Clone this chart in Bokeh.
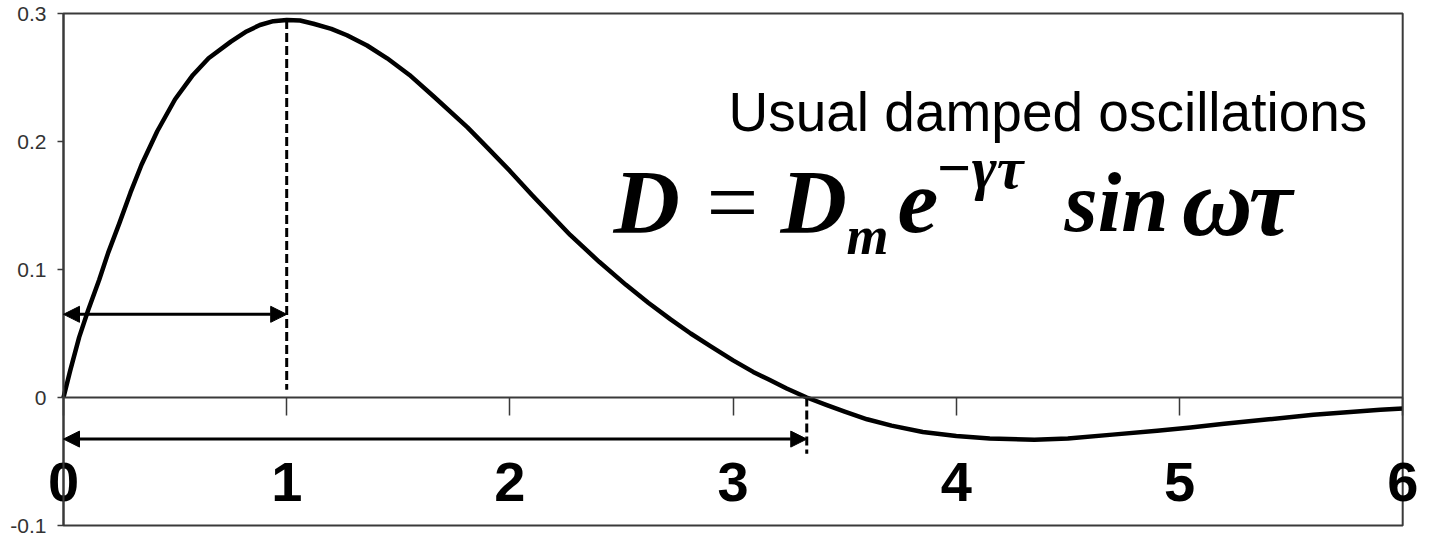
from bokeh.plotting import figure
from bokeh.models import LinearAxis, FixedTicker, Arrow, NormalHead, Label
from bokeh.embed import file_html
from bokeh.resources import INLINE

# Damped oscillation D(tau), sampled along the curve
tau = [0.00, 0.03, 0.07, 0.11, 0.16, 0.20, 0.25, 0.30, 0.35, 0.42, 0.50,
       0.58, 0.65, 0.75, 0.82, 0.88, 0.94, 1.00, 1.06, 1.12, 1.20, 1.27,
       1.36, 1.45, 1.55, 1.66, 1.81, 1.90, 2.00, 2.10, 2.27, 2.40, 2.52,
       2.62, 2.72, 2.81, 2.90, 3.00, 3.09, 3.16, 3.24, 3.33, 3.42, 3.50,
       3.60, 3.71, 3.85, 4.00, 4.15, 4.35, 4.50, 4.70, 4.90, 5.05, 5.20,
       5.40, 5.60, 5.75, 5.90, 6.00]
D = [0.000, 0.021, 0.047, 0.068, 0.092, 0.113, 0.136, 0.160, 0.182, 0.208, 0.233,
     0.252, 0.265, 0.278, 0.286, 0.291, 0.294, 0.295, 0.2945, 0.292, 0.288, 0.283,
     0.275, 0.265, 0.252, 0.235, 0.211, 0.195, 0.177, 0.158, 0.127, 0.106, 0.088,
     0.074, 0.061, 0.050, 0.040, 0.029, 0.020, 0.014, 0.007, 0.000, -0.006, -0.011,
     -0.017, -0.022, -0.027, -0.030, -0.032, -0.033, -0.032, -0.029, -0.026, -0.0235, -0.0205,
     -0.017, -0.0135, -0.0115, -0.0095, -0.0085]

x_limits = (0, 6)
y_limits = (-0.1, 0.3)
x_ticks = [0, 1, 2, 3, 4, 5, 6]
x_tick_labels = ["0", "1", "2", "3", "4", "5", "6"]
y_ticks = [-0.1, 0, 0.1, 0.2, 0.3]
y_tick_labels = ["-0.1", "0", "0.1", "0.2", "0.3"]

# Markers: first maximum and first zero crossing
peak_tau, peak_D = 1.0, 0.295
zero_tau = 3.33
arrow_levels = [0.065, -0.0325]

INK = "black"
FRAME = "#3a3a3a"

# The plotting area fills the whole canvas; the boxed region 0..6 x -0.1..0.3
# sits inside it with room left over for the axis numbers.
W, H = 1433, 540
PX_PER_X, PX_PER_Y = 223.2, 1280.0
LEFT_PX, ZERO_PX = 63, 397
x_view = (-LEFT_PX / PX_PER_X, (W - LEFT_PX) / PX_PER_X)
y_view = ((ZERO_PX - H) / PX_PER_Y, ZERO_PX / PX_PER_Y)

p = figure(width=W, height=H, x_range=x_view, y_range=y_view,
           output_backend="svg", toolbar_location=None,
           x_axis_location=None, y_axis_location=None,
           min_border=0)
p.grid.visible = False
p.outline_line_color = None
p.background_fill_color = "white"
p.border_fill_color = "white"

# box around the chart
p.quad(left=[x_limits[0]], right=[x_limits[1]],
       bottom=[y_limits[0]], top=[y_limits[1]],
       fill_color=None, line_color=FRAME, line_width=2)

# D axis along tau = 0
yax = LinearAxis(fixed_location=0, bounds=y_limits, ticker=FixedTicker(ticks=y_ticks))
yax.major_label_overrides = dict(zip(y_ticks, y_tick_labels))
yax.major_tick_out = 6
yax.major_tick_in = 0
yax.minor_tick_line_color = None
yax.axis_line_color = FRAME
yax.axis_line_width = 2
yax.major_tick_line_color = FRAME
yax.major_tick_line_width = 1.5
yax.major_label_text_font = "Liberation Sans"
yax.major_label_text_font_size = "21px"
yax.major_label_text_color = "#333333"
yax.major_label_standoff = 11
p.add_layout(yax, "left")

# tau axis along D = 0
xax = LinearAxis(fixed_location=0, bounds=x_limits, ticker=FixedTicker(ticks=x_ticks))
xax.major_label_overrides = dict(zip(x_ticks, x_tick_labels))
xax.major_tick_out = 18
xax.major_tick_in = 0
xax.minor_tick_line_color = None
xax.axis_line_color = FRAME
xax.axis_line_width = 2
xax.major_tick_line_color = FRAME
xax.major_tick_line_width = 1.5
xax.major_label_text_font = "Liberation Sans"
xax.major_label_text_font_style = "bold"
xax.major_label_text_font_size = "56px"
xax.major_label_text_color = INK
xax.major_label_standoff = 47
p.add_layout(xax, "below")

# the curve
p.line(tau, D, line_width=4.5, line_color=INK, line_join="round")

# dashed guides at the maximum and at the zero crossing
p.segment(x0=[peak_tau, zero_tau], y0=[peak_D, 0.0],
          x1=[peak_tau, zero_tau], y1=[0.006, -0.044],
          line_color=INK, line_width=3, line_dash="9 4")

# double-headed arrows: quarter period and half period
for level, end in zip(arrow_levels, [peak_tau, zero_tau]):
    p.add_layout(Arrow(
        start=NormalHead(size=16, fill_color=INK, line_color=INK),
        end=NormalHead(size=16, fill_color=INK, line_color=INK),
        x_start=0, y_start=level, x_end=end, y_end=level,
        line_color=INK, line_width=3))

# caption and formula
p.add_layout(Label(x=2.979, y=0.2234, text="Usual damped oscillations",
                   text_font="Liberation Sans", text_font_size="55px",
                   text_color=INK, text_baseline="alphabetic"))

SERIF = "Liberation Serif"
formula_parts = [
    (2.464, 0.1531, "D", "92px", "bold italic"),
    (2.881, 0.1531, "=", "92px", "normal"),
    (3.212, 0.1531, "D", "92px", "bold italic"),
    (3.508, 0.1258, "m", "54px", "bold italic"),
    (3.737, 0.1531, "e", "92px", "bold italic"),
    (3.906, 0.1790, "\u2212\u03b3\u03c4", "60px", "bold italic"),
    (4.485, 0.1531, "sin", "85px", "bold italic"),
    (5.010, 0.1531, "\u03c9", "98px", "bold italic"),
    (5.310, 0.1531, "\u03c4", "98px", "bold italic"),
]
for x, y, txt, size, style in formula_parts:
    p.add_layout(Label(x=x, y=y, text=txt, text_font=SERIF,
                       text_font_size=size, text_font_style=style,
                       text_color=INK, text_baseline="alphabetic"))

open("out.html", "w").write(file_html(p, INLINE))
